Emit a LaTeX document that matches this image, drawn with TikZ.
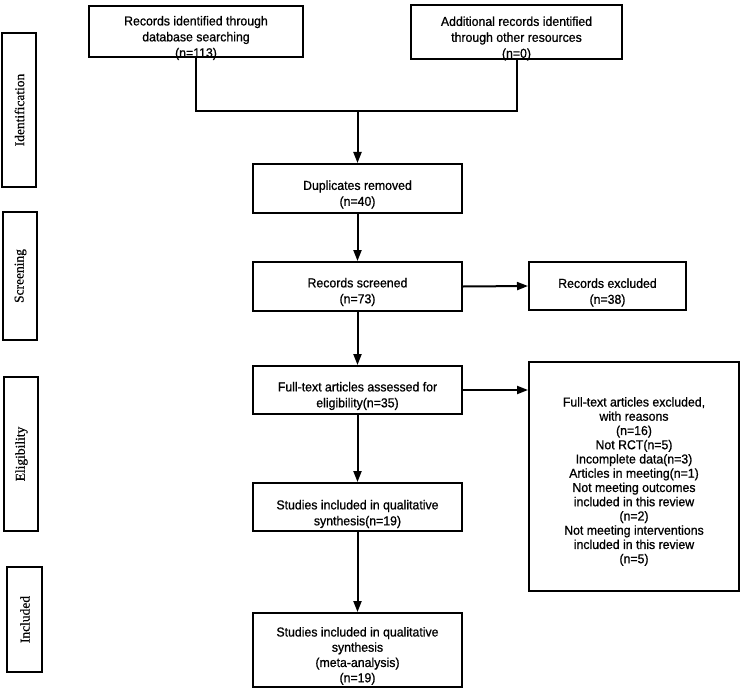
\documentclass[tikz,border=0pt]{standalone}
\usepackage{fontspec}
\setmainfont[FakeStretch=0.95,FakeBold=0.8]{Liberation Sans}
\newfontfamily\serifside[FakeBold=0.6]{Liberation Serif}
\usetikzlibrary{arrows.meta}
\begin{document}
\begin{tikzpicture}[x=1bp,y=-1bp,
  box/.style={draw, line width=2bp, inner sep=0pt},
  txt/.style={font=\fontsize{13}{16}\selectfont, align=center, inner sep=0pt},
  sidebox/.style={draw, line width=2bp, inner sep=0pt},
  sidetxt/.style={font=\serifside\fontsize{13.5}{15}\selectfont, rotate=90, inner sep=0pt},
  link/.style={line width=2bp},
  arr/.style={line width=2bp, -{Triangle[length=11bp,width=8bp]}}]
\useasboundingbox[fill=white] (0,0) rectangle (744,697);

% phase labels
\node[sidebox, minimum width=34bp, minimum height=154bp] (pid) at (19,110) {};
\node[sidetxt] (pidt) at (19.5,110) {Identification};
\node[sidebox, minimum width=34bp, minimum height=128bp] (psc) at (20,276) {};
\node[sidetxt] (psct) at (20.5,276) {Screening};
\node[sidebox, minimum width=34bp, minimum height=154bp] (pel) at (21,454) {};
\node[sidetxt] (pelt) at (21.5,454) {Eligibility};
\node[sidebox, minimum width=35bp, minimum height=105bp] (pin) at (24.5,619.5) {};
\node[sidetxt] (pint) at (25,619.5) {Included};

% boxes
\node[box, minimum width=214bp, minimum height=51bp] (b1) at (196,31.5) {};
\node[txt] (b1t) at (196,38) {Records identified through\\database searching\\(n=113)};
\node[box, minimum width=211bp, minimum height=54bp] (b2) at (516.5,32) {};
\node[txt] (b2t) at (516.5,38.5) {Additional records identified\\through other resources\\(n=0)};

\node[box, minimum width=209bp, minimum height=49bp] (dup) at (357.5,188.5) {};
\node[txt] (dupt) at (357.5,194.5) {Duplicates removed\\(n=40)};

\node[box, minimum width=209bp, minimum height=49bp] (scr) at (357.5,286.5) {};
\node[txt] (scrt) at (357.5,292) {Records screened\\(n=73)};

\node[box, minimum width=157bp, minimum height=48bp] (rexc) at (607.5,286) {};
\node[txt] (rexct) at (607.5,292.5) {Records excluded\\(n=38)};

\node[box, minimum width=209bp, minimum height=48bp] (ft) at (357.5,390) {};
\node[txt] (ftt) at (357.5,396) {Full-text articles assessed for\\eligibility(n=35)};

\node[box, minimum width=210bp, minimum height=229bp] (ftexc) at (634,476.5) {};
\node[txt, font=\fontsize{13}{14.3}\selectfont] (ftexct) at (634,481.5) {Full-text articles excluded,\\with reasons\\(n=16)\\Not RCT(n=5)\\Incomplete data(n=3)\\Articles in meeting(n=1)\\Not meeting outcomes\\included in this review\\(n=2)\\Not meeting interventions\\included in this review\\(n=5)};

\node[box, minimum width=209bp, minimum height=48bp] (s1) at (357.5,507) {};
\node[txt] (s1t) at (357.5,514) {Studies included in qualitative\\synthesis(n=19)};

\node[box, minimum width=209bp, minimum height=74bp] (s2) at (357.5,650) {};
\node[txt, font=\fontsize{13}{15.3}\selectfont] (s2t) at (357.5,656) {Studies included in qualitative\\synthesis\\(meta-analysis)\\(n=19)};

% connectors
\coordinate (j) at (357.5,111);
\draw[link] (b1.south) |- (j);
\draw[link] (b2.south) |- (j);
\draw[arr] (j) -- (dup.north);
\draw[arr] (dup.south) -- (scr.north);
\draw[arr] (scr.east) -- (rexc.west);
\draw[arr] (scr.south) -- (ft.north);
\draw[arr] (ft.east) -- (ft.east -| ftexc.west);
\draw[arr] (ft.south) -- (s1.north);
\draw[arr] (s1.south) -- (s2.north);
\end{tikzpicture}
\end{document}
